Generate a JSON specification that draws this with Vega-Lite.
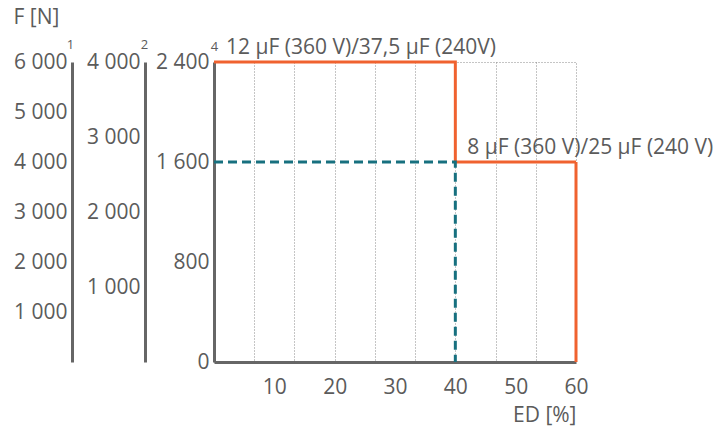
{
  "$schema": "https://vega.github.io/schema/vega-lite/v6.json",
  "width": 362,
  "height": 300,
  "autosize": {"type": "none"},
  "padding": {"left": 214, "top": 62, "right": 143, "bottom": 71},
  "title": {"text": "F [N]", "anchor": "start", "frame": "bounds", "dx": 0, "offset": 9, "fontSize": 21, "fontWeight": "normal", "color": "#5b5b5b", "font": "Open Sans"},
  "data": {"values": [
    {"series": "12 µF", "i": 0, "ed": 0, "f": 2400},
    {"series": "12 µF", "i": 1, "ed": 40, "f": 2400},
    {"series": "12 µF", "i": 2, "ed": 40, "f": 1600},
    {"series": "12 µF", "i": 3, "ed": 60, "f": 1600},
    {"series": "12 µF", "i": 4, "ed": 60, "f": 0},
    {"series": "8 µF", "i": 0, "ed": 0, "f": 1600},
    {"series": "8 µF", "i": 1, "ed": 40, "f": 1600},
    {"series": "8 µF", "i": 2, "ed": 40, "f": 0}
  ]},
  "resolve": {"scale": {"y": "independent"}, "axis": {"y": "independent", "x": "independent"}},
  "layer": [
    {
      "mark": {"type": "point", "opacity": 0},
      "encoding": {
        "x": {"field": "ed", "type": "quantitative", "scale": {"domain": [0, 60], "nice": false},
          "axis": {"orient": "bottom", "values": [6.6667, 13.3333, 20, 26.6667, 33.3333, 40, 46.6667, 53.3333], "grid": true, "gridDash": [1, 2], "gridColor": "#8a8a8a", "gridWidth": 1, "labels": false, "domain": false, "ticks": false, "title": null}},
        "y": {"field": "f", "type": "quantitative", "scale": {"domain": [0, 6000], "nice": false},
          "axis": {"orient": "left", "offset": 142, "values": [1000, 2000, 3000, 4000, 5000, 6000], "labelExpr": "replace(format(datum.value, ','), ',', ' ')", "title": "1", "titleAngle": 0, "titleAlign": "center", "titleBaseline": "middle", "titleX": -2, "titleY": -18, "titleFontSize": 13}}
      }
    },
    {
      "mark": {"type": "point", "opacity": 0},
      "encoding": {
        "x": {"field": "ed", "type": "quantitative", "scale": {"domain": [0, 60], "nice": false}, "axis": null},
        "y": {"field": "f", "type": "quantitative", "scale": {"domain": [0, 4000], "nice": false},
          "axis": {"orient": "left", "offset": 69, "values": [1000, 2000, 3000, 4000], "labelExpr": "replace(format(datum.value, ','), ',', ' ')", "title": "2", "titleAngle": 0, "titleAlign": "center", "titleBaseline": "middle", "titleX": -1, "titleY": -18, "titleFontSize": 13}}
      }
    },
    {
      "layer": [
        {
          "mark": {"type": "line", "strokeWidth": 3},
          "encoding": {
            "x": {"field": "ed", "type": "quantitative", "scale": {"domain": [0, 60], "nice": false},
              "axis": {"orient": "bottom", "values": [10, 20, 30, 40, 50, 60], "grid": false, "labelFlush": false, "labelPadding": 14, "title": "ED [%]", "titleX": 362, "titleY": 53, "titleAlign": "right", "titleBaseline": "middle", "titleFontSize": 21}},
            "y": {"field": "f", "type": "quantitative", "scale": {"domain": [0, 2400], "nice": false},
              "axis": {"orient": "left", "offset": 0, "values": [0, 800, 1600, 2400], "labelExpr": "replace(format(datum.value, ','), ',', ' ')", "title": "4", "titleAngle": 0, "titleAlign": "center", "titleBaseline": "middle", "titleX": 0, "titleY": -16, "titleFontSize": 13}},
            "color": {"field": "series", "type": "nominal", "scale": {"domain": ["8 µF", "12 µF"], "range": ["#17707f", "#f0622f"]}, "legend": null},
            "strokeDash": {"field": "series", "type": "nominal", "scale": {"domain": ["8 µF", "12 µF"], "range": [[9, 5], [1, 0]]}, "legend": null},
            "order": {"field": "i", "type": "quantitative"}
          }
        },
        {
          "data": {"values": [
            {"ed": 0, "f": 2400, "label": "12 µF (360 V)/37,5 µF (240V)"},
            {"ed": 40, "f": 1600, "label": "8 µF (360 V)/25 µF (240 V)"}
          ]},
          "mark": {"type": "text", "align": "left", "baseline": "alphabetic", "dx": 12, "dy": -8, "fontSize": 21, "font": "Open Sans", "color": "#5b5b5b"},
          "encoding": {
            "x": {"field": "ed", "type": "quantitative", "scale": {"domain": [0, 60], "nice": false}},
            "y": {"field": "f", "type": "quantitative", "scale": {"domain": [0, 2400], "nice": false}},
            "text": {"field": "label"}
          }
        }
      ]
    }
  ],
  "config": {
    "font": "Open Sans",
    "view": {"stroke": "#8a8a8a", "strokeDash": [1, 2], "strokeWidth": 1},
    "axis": {"labelFont": "Open Sans", "labelFontSize": 21, "labelColor": "#5b5b5b", "labelPadding": 5, "domainColor": "#666666", "domainWidth": 3, "ticks": false, "grid": false, "titleFont": "Open Sans", "titleFontWeight": "normal", "titleColor": "#5b5b5b"}
  }
}
